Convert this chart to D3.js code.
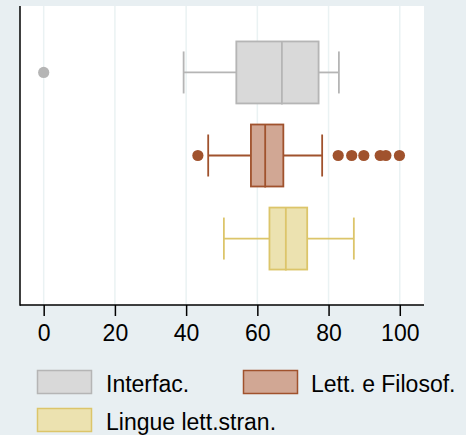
<!DOCTYPE html>
<html>
<head>
<meta charset="utf-8">
<script src="https://cdn.jsdelivr.net/npm/d3@7"></script>
<style>
  html, body { margin: 0; padding: 0; background: #e8eff2; }
  svg { display: block; }
  text { font-family: "Liberation Sans", Arial, sans-serif; }
</style>
</head>
<body>
<svg id="chart" width="466" height="435"></svg>
<script>
// Groups and their box-plot summaries
const groups = ["Interfac.", "Lett. e Filosof.", "Lingue lett.stran."];
const whiskerLow  = [39.3, 46.2, 50.6];
const q1          = [54.1, 58.2, 63.4];
const median      = [66.9, 62.2, 68.0];
const q3          = [77.2, 67.3, 74.0];
const whiskerHigh = [82.9, 78.2, 87.1];
const outliers = [
  [0],
  [43.3, 82.7, 86.5, 89.9, 94.5, 96.1, 99.9],
  []
];
const xTicks = [0, 20, 40, 60, 80, 100];

const fills   = ["#d9d9d9", "#d1a794", "#ece2b0"];
const strokes = ["#b5b5b5", "#a0522d", "#dcc56a"];

const svg = d3.select("#chart");
const plot = { left: 20, right: 424, top: 6, bottom: 305 };

const x = d3.scaleLinear().domain([-6.65, 106.8]).range([plot.left, plot.right]);
const y = d3.scalePoint().domain(groups).range([plot.top, plot.bottom]).padding(0.8);

// plot background
svg.append("rect")
  .attr("x", plot.left).attr("y", plot.top)
  .attr("width", plot.right - plot.left).attr("height", plot.bottom - plot.top)
  .attr("fill", "#ffffff");

// vertical grid lines
svg.append("g").selectAll("line").data(xTicks).join("line")
  .attr("x1", d => x(d)).attr("x2", d => x(d))
  .attr("y1", plot.top).attr("y2", plot.bottom)
  .attr("stroke", "#eaf2f3").attr("stroke-width", 1.5);

// x axis
const xAxis = svg.append("g")
  .attr("transform", `translate(0,${plot.bottom})`)
  .call(d3.axisBottom(x).tickValues(xTicks).tickSize(11).tickPadding(9).tickSizeOuter(0));
xAxis.select(".domain").attr("stroke", "#000").attr("stroke-width", 1.5)
  .attr("d", `M${plot.left},0H${plot.right}`);
xAxis.selectAll(".tick line").attr("stroke", "#000").attr("stroke-width", 1.5);
xAxis.selectAll(".tick text").attr("font-size", 23).attr("fill", "#000")
  .attr("font-family", "Liberation Sans, Arial, sans-serif");

// y axis line
svg.append("line")
  .attr("x1", plot.left).attr("x2", plot.left)
  .attr("y1", plot.top).attr("y2", plot.bottom + 0.75)
  .attr("stroke", "#000").attr("stroke-width", 1.5);

const boxH = 62, capH = 42;

groups.forEach((g, i) => {
  const cy = y(g);
  const gEl = svg.append("g");
  const sw = 1.8;
  // whiskers
  gEl.append("line")
    .attr("x1", x(whiskerLow[i])).attr("x2", x(q1[i]))
    .attr("y1", cy).attr("y2", cy)
    .attr("stroke", strokes[i]).attr("stroke-width", sw);
  gEl.append("line")
    .attr("x1", x(q3[i])).attr("x2", x(whiskerHigh[i]))
    .attr("y1", cy).attr("y2", cy)
    .attr("stroke", strokes[i]).attr("stroke-width", sw);
  [whiskerLow[i], whiskerHigh[i]].forEach(v => {
    gEl.append("line")
      .attr("x1", x(v)).attr("x2", x(v))
      .attr("y1", cy - capH / 2).attr("y2", cy + capH / 2)
      .attr("stroke", strokes[i]).attr("stroke-width", sw);
  });
  // box
  gEl.append("rect")
    .attr("x", x(q1[i])).attr("y", cy - boxH / 2)
    .attr("width", x(q3[i]) - x(q1[i])).attr("height", boxH)
    .attr("fill", fills[i]).attr("stroke", strokes[i]).attr("stroke-width", sw);
  // median
  gEl.append("line")
    .attr("x1", x(median[i])).attr("x2", x(median[i]))
    .attr("y1", cy - boxH / 2).attr("y2", cy + boxH / 2 + 1)
    .attr("stroke", strokes[i]).attr("stroke-width", sw);
  // outliers
  gEl.selectAll("circle").data(outliers[i]).join("circle")
    .attr("cx", d => x(d)).attr("cy", cy).attr("r", 5.6)
    .attr("fill", strokes[i]);
});

// legend
const legendPos = [
  { x: 37, y: 370, tx: 106 },
  { x: 243, y: 370, tx: 311 },
  { x: 37, y: 408, tx: 106 }
];
groups.forEach((g, i) => {
  const p = legendPos[i];
  svg.append("rect")
    .attr("x", p.x + 0.5).attr("y", p.y + 0.5)
    .attr("width", 54).attr("height", 23)
    .attr("fill", fills[i]).attr("stroke", strokes[i]).attr("stroke-width", 1.5);
  svg.append("text")
    .attr("x", p.tx).attr("y", p.y + 21.5)
    .attr("font-size", 23).attr("fill", "#000")
    .text(g);
});
</script>
</body>
</html>
